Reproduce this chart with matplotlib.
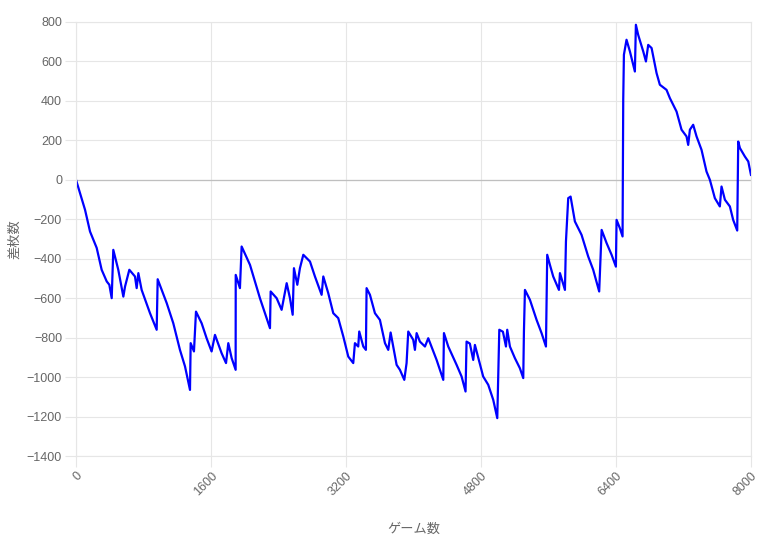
"""Slot machine coin difference (差枚数) over games."""

import matplotlib

matplotlib.use("Agg")
import matplotlib.pyplot as plt

# traced vertices of the line: game count and coin difference
GAMES = [
    0, 107, 166, 245, 304, 364, 395, 423,
    442, 501, 561, 581, 632, 699, 719, 739, 778, 877, 956,
    968, 1075, 1153, 1232, 1292, 1351,
    1359, 1398, 1422, 1489, 1548, 1607, 1647, 1726, 1778, 1805, 1845, 1892,
    1893, 1943, 1963, 2062, 2180, 2299,
    2307, 2378, 2437, 2497, 2536, 2568, 2583, 2623, 2654, 2694, 2773,
    2832, 2911, 2931, 2990, 3049, 3108, 3168, 3227, 3286, 3306, 3345,
    3357, 3405, 3436,
    3444, 3484, 3543, 3602, 3662, 3701, 3729, 3760, 3800, 3839, 3891,
    3918, 3938, 3997, 4017, 4037, 4076, 4136, 4175, 4274, 4353,
    4361, 4412, 4511, 4570, 4617,
    4629, 4668, 4708, 4728, 4826, 4886, 4945, 4993,
    5005, 5017, 5060, 5096, 5111, 5143, 5202, 5261, 5301,
    5309, 5321, 5380, 5459, 5518, 5570,
    5585, 5617, 5656, 5724, 5736, 5795,
    5807, 5834, 5862, 5913, 5992, 6071, 6130, 6201,
    6230, 6289, 6348, 6399,
    6407, 6446, 6478,
    6486, 6494, 6525, 6565, 6624, 6636, 6663, 6723, 6755, 6782, 6822,
    6881, 6920, 6999, 7039, 7118, 7177, 7236, 7256, 7276, 7315, 7355,
    7414, 7473, 7513, 7572, 7631, 7651, 7691, 7750, 7789, 7837,
    7849, 7869, 7928, 7968, 8000,
]
DIFF = [
    0, -152, -262, -345, -456, -515, -532, -600,
    -355, -456, -592, -541, -456, -490, -549, -473, -558, -676, -760,
    -504, -625, -727, -862, -946, -1065,
    -828, -870, -668, -727, -803, -870, -786, -879, -929, -828, -904, -963,
    -482, -549, -338, -431, -600, -752,
    -566, -600, -659, -524, -600, -684, -448, -532, -448, -380, -414,
    -490, -583, -490, -575, -676, -701, -794, -896, -929, -828, -845,
    -769, -845, -862,
    -549, -583, -676, -710, -828, -862, -774, -845, -938, -963, -1014,
    -929, -769, -811, -862, -777, -820, -845, -803, -913, -1014,
    -777, -845, -938, -997, -1073,
    -820, -830, -913, -837, -997, -1039, -1115, -1208,
    -980, -760, -770, -845, -760, -845, -904, -955, -1005,
    -769, -558, -608, -710, -777, -845,
    -380, -431, -490, -558, -473, -558,
    -313, -93, -85, -211, -279, -389, -456, -566,
    -254, -321, -380, -440,
    -203, -245, -287,
    406, 634, 710, 651, 549, 786, 735, 651, 600, 684, 668,
    541, 482, 456, 414, 346, 254, 220, 177, 254, 279, 220,
    152, 42, 0, -93, -135, -34, -101, -135, -203, -257,
    194, 161, 118, 93, 25,
]

X_TICKS = [0, 1600, 3200, 4800, 6400, 8000]
Y_TICKS = list(range(-1400, 801, 200))

GRID = "#e6e6e6"
TICK_TEXT = "#666666"


def main() -> None:
    plt.rcParams["font.family"] = ["Liberation Sans", "Noto Sans CJK JP", "DejaVu Sans"]

    fig = plt.figure(figsize=(7.67, 5.43), dpi=100)
    ax = fig.add_axes([0.0991, 0.1602, 0.8800, 0.7993])

    ax.plot(GAMES, DIFF, color="#0000ff", linewidth=1.6, solid_joinstyle="round")
    ax.axhline(0, color="#bfbfbf", linewidth=0.9, zorder=1)

    ax.set_xlim(0, 8000)
    ax.set_ylim(-1400, 800)
    ax.set_xticks(X_TICKS)
    ax.set_yticks(Y_TICKS)
    ax.set_xticklabels([str(t) for t in X_TICKS], rotation=45, ha="right",
                       va="top", rotation_mode="anchor")
    ax.tick_params(colors=GRID, labelcolor=TICK_TEXT, labelsize=9, length=8,
                   width=0.8, pad=2)
    ax.grid(True, color=GRID, linewidth=0.8)
    ax.set_axisbelow(True)
    for spine in ax.spines.values():
        spine.set_color(GRID)
        spine.set_linewidth(0.8)

    ax.set_xlabel("ゲーム数", family=["Noto Sans CJK JP"], color=TICK_TEXT,
                  fontsize=9.5, labelpad=18)
    ax.set_ylabel("差枚数", family=["Noto Sans CJK JP"], color=TICK_TEXT,
                  fontsize=9.5, labelpad=4)

    fig.savefig("out.png", dpi=100)


if __name__ == "__main__":
    main()
